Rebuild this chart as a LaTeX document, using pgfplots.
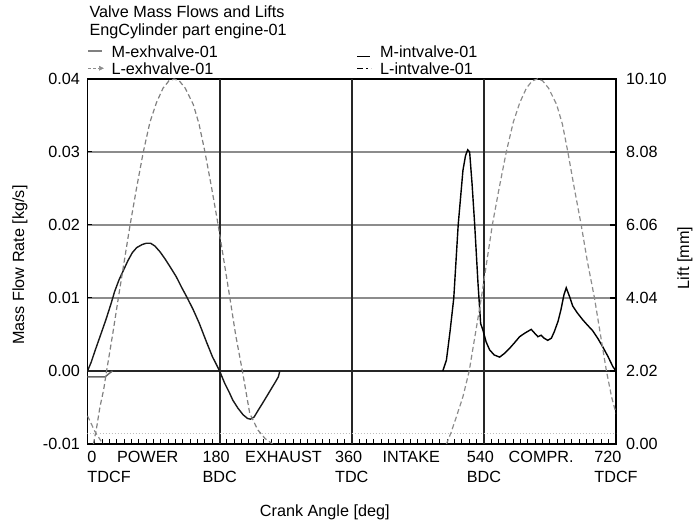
\documentclass[border=0pt]{standalone}
\usepackage{fontspec}
\setmainfont{Liberation Sans}
\usepackage{pgfplots}
\pgfplotsset{compat=1.18}
\newcommand{\fs}{\fontsize{16.2}{19.5}\selectfont}

\begin{document}
\begin{tikzpicture}[font=\fs]
\path[use as bounding box] (-87.5pt,-83pt) rectangle (608.5pt,444pt);
\begin{axis}[
  at={(0pt,0pt)}, anchor=south west,
  scale only axis, width=528.5pt, height=365pt,
  xmin=0, xmax=720, ymin=-0.01, ymax=0.04,
  clip mode=individual,
  axis line style={black, line width=1.4pt},
  xtick={0,180,360,540,720},
  xticklabels={
    {\makebox[0pt][l]{\begin{tabular}[t]{@{}l@{}}0\\TDCF\end{tabular}}},
    {\begin{tabular}[t]{@{}l@{}}180\\BDC\end{tabular}},
    {\begin{tabular}[t]{@{}l@{}}360\\TDC\end{tabular}},
    {\begin{tabular}[t]{@{}l@{}}540\\BDC\end{tabular}},
    {\begin{tabular}[t]{@{}l@{}}720\\TDCF\end{tabular}}},
  minor xtick={10,20,...,710},
  xtick pos=left, ytick pos=left,
  major tick length=5pt, minor tick length=5pt,
  tick style={black, line width=1pt},
  ytick={-0.01,0,0.01,0.02,0.03,0.04},
  yticklabels={-0.01,0.00,0.01,0.02,0.03,0.04},
  scaled y ticks=false,
  ymajorgrids,
  grid style={black!45, line width=1.3pt},
  xticklabel style={anchor=north, inner sep=0pt, yshift=-5pt},
  yticklabel style={anchor=east, inner sep=0pt, xshift=-7.5pt},
  xlabel={Crank Angle [deg]},
  xlabel style={at={(axis description cs:0.449,-0.186)}, anchor=center},
  ylabel={Mass Flow Rate [kg/s]},
  ylabel style={at={(axis description cs:-0.1277,0.49)}, anchor=center},
  legend columns=2,
  legend style={draw=none, fill=none, at={(axis description cs:0,1.0924)}, anchor=north west,
    inner sep=0pt, outer sep=0pt, row sep=0pt,
    nodes={inner sep=0pt, text height=12pt, text depth=5pt},
    /tikz/every odd column/.append style={column sep=8pt},
    /tikz/column 2/.append style={column sep=139pt}},
  legend cell align=left,
]
\addlegendimage{legend image code/.code={\draw[black!50, line width=1.7pt] (0pt,2.5pt) -- (14pt,2.5pt);}}
\addlegendentry{M-exhvalve-01}
\addlegendimage{legend image code/.code={\draw[black, line width=1.4pt] (0pt,-3pt) -- (13pt,-3pt);}}
\addlegendentry{M-intvalve-01}
\addlegendimage{legend image code/.code={\draw[black!45, line width=1.3pt, dash pattern=on 3pt off 2pt] (0pt,2.5pt) -- (11pt,2.5pt); \fill[black!45] (11pt,0.5pt) -- (15pt,2.5pt) -- (11pt,4.5pt) -- cycle;}}
\addlegendentry{L-exhvalve-01}
\addlegendimage{legend image code/.code={\draw[black, line width=1.4pt, dash pattern=on 6pt off 3pt on 2pt off 3pt] (0pt,2.5pt) -- (14pt,2.5pt);}}
\addlegendentry{L-intvalve-01}

% zero line and stroke separators
\addplot[black!85, line width=1.5pt, forget plot] coordinates {(0,0) (720,0)};
\addplot[black!85, line width=1.9pt, forget plot] coordinates {(180,-0.01) (180,0.04)};
\addplot[black!85, line width=1.9pt, forget plot] coordinates {(360,-0.01) (360,0.04)};
\addplot[black!85, line width=1.9pt, forget plot] coordinates {(540,-0.01) (540,0.04)};

% M-exhvalve-01
\addplot[black!90, line width=1.4pt, forget plot] coordinates {
(0,0) (5,0.0012) (10,0.0027) (17,0.0047) (25,0.0070) (32,0.0092) (37,0.0109)
(43,0.0125) (49,0.0138) (55,0.0151) (61,0.0162) (67,0.0169) (74,0.0173)
(80,0.0175) (86,0.0175) (92,0.0171) (99,0.0163) (106,0.0153) (113,0.0142)
(121,0.0129) (128,0.0115) (136,0.0100) (144,0.0084) (152,0.0066) (162,0.0040)
(170,0.0020) (180,0.0000) (187,-0.0017) (193,-0.0029) (198,-0.0040)
(205,-0.0051) (212,-0.0060) (218,-0.0065) (222,-0.0066) (227,-0.0063)
(233,-0.0053) (238,-0.0045) (244,-0.0035) (250,-0.0025) (256,-0.0015)
(260,-0.0008) (262,0.0)};

% M-intvalve-01 (tail near 0 deg)
\addplot[black!60, line width=1.4pt, forget plot] coordinates {
(0,-0.0008) (24,-0.0008) (30,-0.0003) (34,0)};

% M-intvalve-01
\addplot[black, line width=1.4pt, forget plot] coordinates {
(484,0) (489,0.0015) (494,0.0055) (499,0.0100) (505,0.0200) (511.5,0.0275)
(515,0.0295) (518,0.0303) (520.6,0.0300) (524,0.0255) (527.4,0.0202)
(532,0.0120) (535.6,0.0065) (538.7,0.0056) (543,0.0040) (547.8,0.0029)
(554,0.0022) (561.4,0.0019) (568,0.0024) (575,0.0031) (582,0.0039)
(588.7,0.0047) (596,0.0052) (604.5,0.0057) (609,0.0052) (613.6,0.0047)
(618,0.0049) (622,0.0045) (627,0.0042) (632,0.0045) (636,0.0054)
(641,0.0068) (645,0.0084) (649,0.0104) (652.2,0.0114) (656.7,0.0102)
(661,0.0089) (667,0.0080) (674.8,0.0070) (681,0.0063) (688.4,0.0055)
(695,0.0045) (702,0.0033) (709,0.0020) (715.7,0.0006) (720,0)};

% stroke names
\node[anchor=north, inner sep=0pt, yshift=-5pt] at (axis cs:82,-0.01) {\begin{tabular}[t]{@{}c@{}}POWER\end{tabular}};
\node[anchor=north, inner sep=0pt, yshift=-5pt] at (axis cs:267,-0.01) {\begin{tabular}[t]{@{}c@{}}EXHAUST\end{tabular}};
\node[anchor=north, inner sep=0pt, yshift=-5pt] at (axis cs:441,-0.01) {\begin{tabular}[t]{@{}c@{}}INTAKE\end{tabular}};
\node[anchor=north, inner sep=0pt, yshift=-5pt] at (axis cs:618,-0.01) {\begin{tabular}[t]{@{}c@{}}COMPR.\end{tabular}};
\end{axis}

\begin{axis}[
  at={(0pt,0pt)}, anchor=south west,
  scale only axis, width=528.5pt, height=365pt,
  xmin=0, xmax=720, ymin=0, ymax=10.10,
  axis x line=none, axis y line*=right,
  axis line style={black, line width=1.4pt},
  ytick={0,2.02,4.04,6.06,8.08,10.10},
  yticklabels={0.00,2.02,4.04,6.06,8.08,10.10},
  major tick length=6pt,
  tick style={black, line width=1.4pt},
  yticklabel style={anchor=west, inner sep=0pt, xshift=10pt},
  ylabel={Lift [mm]},
  ylabel style={at={(axis description cs:1.1305,0.5096)}, anchor=center},
]
% faint baseline
\addplot[black!25, line width=1pt, dotted] coordinates {(0,0.3) (720,0.3)};

% L-exhvalve-01
\addplot[black!50, line width=1.2pt, dash pattern=on 5pt off 3pt] coordinates {
(8,0) (12,0.4) (17,1.03) (22,1.5) (26,2.02) (34,3.0) (42,4.04) (50,5.05)
(58,6.06) (67,7.1) (76,8.08) (85,8.9) (94,9.45) (103,9.85) (111,10.05)
(118,10.10) (125,10.05) (133,9.85) (144,9.4) (152,8.85) (160,8.08)
(169,7.1) (178,6.06) (186,5.05) (194,4.04) (202,3.0) (211,2.02)
(221,0.85) (232,0.39) (242,0.15) (252,0.0)};

% L-intvalve-01
\addplot[black!45, line width=1.2pt, dash pattern=on 5pt off 3pt] coordinates {
(489,0) (495,0.3) (502.5,0.75) (511.5,1.31) (520,2.02) (528,3.0)
(536.5,4.04) (544,5.05) (551.5,6.06) (561,7.1) (570.5,8.08) (580,8.9)
(589,9.45) (598,9.85) (606,10.05) (613,10.10) (620,10.05) (628,9.85)
(639,9.4) (647,8.85) (654.4,8.08) (663,7.1) (672.6,6.06) (681,5.05)
(690.7,4.04) (699,3.0) (707,2.02) (714,1.3) (720,0.85)};
\addplot[black!45, line width=1.2pt, dash pattern=on 5pt off 3pt] coordinates {
(0,0.78) (10,0.35) (21,0)};
\end{axis}

\node[anchor=base west, inner sep=0pt] at (1.8pt,426.7pt) {Valve Mass Flows and Lifts};
\node[anchor=base west, inner sep=0pt] at (1.8pt,408pt) {EngCylinder part engine-01};
\end{tikzpicture}
\end{document}
